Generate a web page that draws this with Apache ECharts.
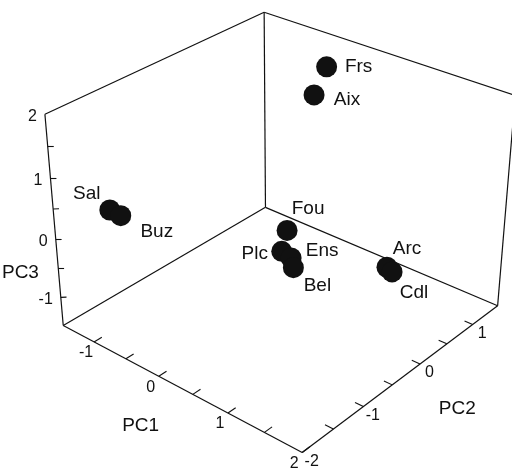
<!DOCTYPE html>
<html><head><meta charset="utf-8">
<script src="https://cdn.jsdelivr.net/npm/echarts@6/dist/echarts.min.js"></script>
<style>html,body{margin:0;padding:0;background:#fff}#c{width:512px;height:468px}</style>
</head><body><div id="c"></div><script>
// ---- data (PCA scores) ----
const siteNames = ['Frs','Aix','Sal','Buz','Fou','Plc','Ens','Bel','Arc','Cdl'];
const pc1Scores = [-0.18,-0.13,-1.21,-1.03,-0.10,0.15,0.32,0.47,1.25,1.35];
const pc2Scores = [1.04,0.76,-1.44,-1.45,0.26,-0.13,-0.17,-0.31,0.36,0.32];
const pc3Scores = [1.8,1.5,0.3,0.3,-0.5,-0.5,-0.5,-0.5,-0.5,-0.5];
// ---- axes ----
const pc1Range = [-1.5, 2], pc2Range = [-2, 1.5], pc3Range = [-1.5, 2];
const pc1Ticks = [-1,-0.5,0,0.5,1,1.5,2];
const pc2Ticks = [-1.5,-1,-0.5,0,0.5,1];
const pc3Ticks = [-1,-0.5,0,0.5,1,1.5];
const pc1TickLabels = [-1,0,1,2];
const pc2TickLabels = [-2,-1,0,1];
const pc3TickLabels = [-1,0,1,2];
const axisNames = ['PC1','PC2','PC3'];

// ---- style / layout ----
const W = 512, H = 468;
const INK = '#111';
const FONT = '"Liberation Sans", Arial, Helvetica, sans-serif';
const labelOffsets = {Frs:[32,0],Aix:[33,5],Sal:[-23,-16],Buz:[36,16],Fou:[21,-22],Plc:[-27,2],Ens:[31,-7],Bel:[24,18],Arc:[20,-19],Cdl:[22,21]};

// camera calibration: box corners of the 3-D view (view geometry, not data)
const [x0,x1]=pc1Range,[y0,y1]=pc2Range,[z0,z1]=pc3Range;
const cameraAnchors = [
 [x0,y0,z0, 62.3,325],[x1,y0,z0, 304,451.7],[x1,y1,z0, 499,304.5],[x0,y1,z0, 266,206.7],
 [x0,y0,z1, 45,113],[x0,y1,z1, 264.3,13.3],[x1,y1,z1, 515.3,94.4],
 [-1,y0,z0,95,342.1],[0,y0,z0,159,375.7],[1,y0,z0,229.3,412.5],
 [x1,-1,z0,361.7,408.1],[x1,0,z0,418.3,365.4],[x1,1,z0,471.7,325.1],
 [x0,y0,1,50.5,180],[x0,y0,0,55.2,238],[x0,y0,-1,60.1,298.3]
];
function solveCamera(pts){
  const n=11;const M=Array.from({length:n},()=>new Array(n+1).fill(0));
  const add=(r,b)=>{for(let i=0;i<n;i++){for(let j=0;j<n;j++)M[i][j]+=r[i]*r[j];M[i][n]+=r[i]*b;}};
  for(const [X,Y,Z,u,v] of pts){add([X,Y,Z,1,0,0,0,0,-u*X,-u*Y,-u*Z],u);add([0,0,0,0,X,Y,Z,1,-v*X,-v*Y,-v*Z],v);}
  for(let i=0;i<n;i++){let m=i;for(let k=i+1;k<n;k++)if(Math.abs(M[k][i])>Math.abs(M[m][i]))m=k;[M[i],M[m]]=[M[m],M[i]];
    for(let k=0;k<n;k++){if(k===i)continue;const f=M[k][i]/M[i][i];for(let j=i;j<=n;j++)M[k][j]-=f*M[i][j];}}
  return M.map((r,i)=>r[n]/r[i]);
}
const P = solveCamera(cameraAnchors);
function proj(X,Y,Z){const w=P[8]*X+P[9]*Y+P[10]*Z+1;return[(P[0]*X+P[1]*Y+P[2]*Z+P[3])/w,(P[4]*X+P[5]*Y+P[6]*Z+P[7])/w];}

// ---- box edges (back faces, as in the original) ----
const C = {A:[x0,y0,z0],B:[x1,y0,z0],Cc:[x1,y1,z0],D:[x0,y1,z0],E:[x0,y0,z1],F:[x0,y1,z1],G:[x1,y1,z1]};
const edges = [['A','B'],['B','Cc'],['Cc','D'],['D','A'],['A','E'],['D','F'],['Cc','G'],['E','F'],['F','G']];
const edgeData = edges.map(([a,b])=>({coords:[proj(...C[a]),proj(...C[b])]}));
// ticks
const tickData = [];
pc1Ticks.forEach(v=>tickData.push({coords:[proj(v,y0,z0),proj(v,y0+0.12,z0)]}));
pc2Ticks.forEach(v=>tickData.push({coords:[proj(x1,v,z0),proj(x1-0.11,v,z0)]}));
pc3Ticks.forEach(v=>tickData.push({coords:[proj(x0,y0,v),proj(x0+0.045,y0+0.045,v)]}));

// tick labels
const tickLabelData = [];
pc1TickLabels.forEach(v=>{const q=proj(v,y0,z0);tickLabelData.push({value:q,name:String(v),label:{offset:[-8,11],align:'center'}});});
pc2TickLabels.forEach(v=>{const q=proj(x1,v,z0);tickLabelData.push({value:q,name:String(v),label:{offset:[9.5,9],align:'center'}});});
pc3TickLabels.forEach(v=>{const q=proj(x0,y0,v);tickLabelData.push({value:q,name:String(v),label:{offset:[-8,2],align:'right'}});});

// axis names placed relative to each axis midpoint
const nameData = [
 {value:proj((x0+x1)/2,y0,z0),name:axisNames[0],label:{offset:[-35,41]}},
 {value:proj(x1,(y0+y1)/2,z0),name:axisNames[1],label:{offset:[51,34]}},
 {value:proj(x0,y0,(z0+z1)/2),name:axisNames[2],label:{offset:[-34,49]}}
];

const pointData = siteNames.map((n,i)=>({value:proj(pc1Scores[i],pc2Scores[i],pc3Scores[i]),name:n,
  label:{offset:labelOffsets[n]}}));

const txt = (size, extra)=>Object.assign({show:true,position:'inside',formatter:'{b}',color:INK,opacity:1,
  textBorderWidth:0,fontFamily:FONT,fontSize:size,verticalAlign:'middle'},extra||{});

const chart = echarts.init(document.getElementById('c'),null,{renderer:'canvas'});
chart.setOption({
  animation:false,
  backgroundColor:'#fff',
  grid:{left:0,right:0,top:0,bottom:0},
  xAxis:{type:'value',min:0,max:W,show:false},
  yAxis:{type:'value',min:0,max:H,inverse:true,show:false},
  series:[
    {type:'lines',coordinateSystem:'cartesian2d',data:edgeData,silent:true,
     lineStyle:{color:INK,width:1.2,opacity:1}},
    {type:'lines',coordinateSystem:'cartesian2d',data:tickData,silent:true,
     lineStyle:{color:INK,width:1.1,opacity:1}},
    {type:'scatter',data:tickLabelData,symbolSize:1,itemStyle:{color:'rgba(0,0,0,0)',opacity:1},silent:true,
     label:txt(16)},
    {type:'scatter',data:nameData,symbolSize:1,itemStyle:{color:'rgba(0,0,0,0)',opacity:1},silent:true,
     label:txt(19,{align:'center'})},
    {type:'scatter',data:pointData,symbol:'circle',symbolSize:21,itemStyle:{color:'#111',opacity:1,borderWidth:0},silent:true,
     label:txt(19,{align:'center'})}
  ]
});
</script></body></html>
